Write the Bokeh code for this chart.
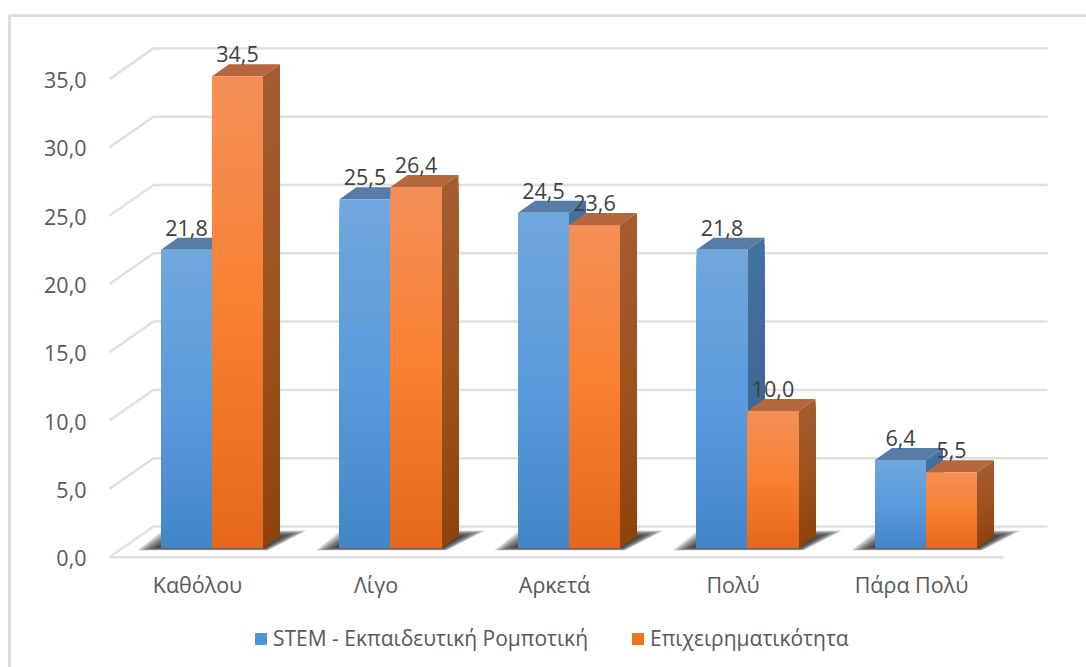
from bokeh.embed import file_html
from bokeh.resources import INLINE
from bokeh.plotting import figure
from bokeh.models import LinearAxis, FixedTicker, Legend, LegendItem, ColumnDataSource, Range1d
from bokeh.core.properties import value

categories = ["Καθόλου", "Λίγο", "Αρκετά", "Πολύ", "Πάρα Πολύ"]
stem_values = [21.8, 25.5, 24.5, 21.8, 6.4]
business_values = [34.5, 26.4, 23.6, 10.0, 5.5]
stem_name = "STEM - Εκπαιδευτική Ρομποτική"
business_name = "Επιχειρηματικότητα"
value_ticks = [0, 5, 10, 15, 20, 25, 30, 35]

WIDTH, HEIGHT = 1086, 667
PX_PER_CAT = 178.5
PX_PER_VAL = 13.66
CAT0_PX, ZERO_PX = 197.0, 556.7
FONT = "Open Sans"


def dx(px):
    return px / PX_PER_CAT


def dy(px):
    return px / PX_PER_VAL


def xd(px):
    return (px - CAT0_PX) / PX_PER_CAT


def yd(py):
    return (ZERO_PX - py) / PX_PER_VAL


p = figure(width=WIDTH, height=HEIGHT, output_backend="svg", toolbar_location=None,
           x_range=(xd(0), xd(WIDTH)), y_range=(yd(HEIGHT), yd(0)),
           x_axis_type=None, y_axis_type=None, min_border=0,
           background_fill_color="white", border_fill_color="white", outline_line_color=None)
p.grid.visible = False

GRID = "#e0e0e0"
WALL_DX, WALL_DY = dx(44), dy(30.7)
LEFT = xd(109)
RIGHT_FRONT = xd(1003)

# Outer chart border
p.multi_line([[xd(9), xd(9), xd(WIDTH)]], [[yd(HEIGHT), yd(15), yd(15)]], line_color="#dedede", line_width=3)

# Back wall, side wall and floor lines
xs, ys = [], []
for t in value_ticks:
    xs.append([LEFT, LEFT + WALL_DX, RIGHT_FRONT + WALL_DX])
    ys.append([t, t + WALL_DY, t + WALL_DY])
xs.append([LEFT, RIGHT_FRONT])
ys.append([0, 0])
p.multi_line(xs, ys, line_color=GRID, line_width=2.5)


def lerp(c1, c2, f):
    return "#%02x%02x%02x" % tuple(round(a + (b - a) * f) for a, b in zip(c1, c2))


def ramp(stops, f):
    n = len(stops) - 1
    k = min(int(f * n), n - 1)
    return lerp(stops[k], stops[k + 1], f * n - k)


BLUE_FRONT = [(0x70, 0xa7, 0xdd), (0x5a, 0x9b, 0xdc), (0x41, 0x85, 0xc8)]
BLUE_SIDE = [(0x44, 0x72, 0xa0), (0x3d, 0x69, 0x96), (0x2f, 0x5e, 0x8c)]
BLUE_TOP = "#567ca7"
ORANGE_FRONT = [(0xf5, 0x8f, 0x58), (0xf8, 0x80, 0x30), (0xe5, 0x68, 0x1a)]
ORANGE_SIDE = [(0xa3, 0x5c, 0x30), (0x9e, 0x52, 0x1e), (0x8e, 0x43, 0x0e)]
ORANGE_TOP = "#b5663c"

BAR_W = dx(51)
GROUP_SHIFT = dx(14.5)
DEPTH_X, DEPTH_Y = dx(17), dy(12)
BASE = dy(9.7)
STEPS = 48

# Soft floor shadow built from nested translucent shapes
SHADOW_LAYERS = 14
for i in range(len(categories)):
    left, right = i + GROUP_SHIFT - BAR_W, i + GROUP_SHIFT + BAR_W
    for k in range(SHADOW_LAYERS):
        inset = k * 1.5
        low, high = BASE - dy(3 - k * 0.2), BASE + dy(17 - k * 0.42)
        sx = [left - dx(24 - inset), left + dx(1 + inset), right + dx(44 - inset * 1.2), right + dx(5 - inset * 0.2)]
        sy = [low, high, high, low]
        p.patch(sx, sy, fill_color="#262626", fill_alpha=0.12, line_color=None)


def draw_bar(left, val, front, side, top):
    right = left + BAR_W
    h = BASE + val
    # lid of the box
    p.patch([left, left + DEPTH_X, right + DEPTH_X, right],
            [h, h + DEPTH_Y, h + DEPTH_Y, h], fill_color=top, line_color=None)
    # faces painted top-down as shrinking layers so no seams show between bands
    for s in range(STEPS):
        f = s / (STEPS - 1)
        y_top = BASE + val * (1 - f)
        p.patch([right, right + DEPTH_X, right + DEPTH_X, right],
                [BASE, BASE + DEPTH_Y, y_top + DEPTH_Y, y_top],
                fill_color=ramp(side, f), line_color=None)
    for s in range(STEPS):
        f = s / (STEPS - 1)
        y_top = BASE + val * (1 - f)
        p.quad(left=left, right=right, bottom=BASE, top=y_top, fill_color=ramp(front, f), line_color=None)


for i in range(len(categories)):
    draw_bar(i + GROUP_SHIFT - BAR_W, stem_values[i], BLUE_FRONT, BLUE_SIDE, BLUE_TOP)
    draw_bar(i + GROUP_SHIFT, business_values[i], ORANGE_FRONT, ORANGE_SIDE, ORANGE_TOP)

# Value labels
fmt = lambda v: f"{v:.1f}".replace(".", ",")
lx, ly, lt = [], [], []
for i in range(len(categories)):
    lx += [i + GROUP_SHIFT - BAR_W / 2, i + GROUP_SHIFT + BAR_W / 2]
    ly += [BASE + stem_values[i] + DEPTH_Y, BASE + business_values[i] + DEPTH_Y]
    lt += [fmt(stem_values[i]), fmt(business_values[i])]
src = ColumnDataSource(dict(x=lx, y=ly, t=lt))
p.text("x", "y", text="t", source=src, text_font=value(FONT), text_font_size="21.5px",
       text_color="#404040", text_align="center", text_baseline="alphabetic", y_offset=-10)

# Axes sit on the front edge of the floor and side wall; tick labels hang a touch below their lines
p.extra_y_ranges["labels"] = Range1d(yd(HEIGHT) + dy(1), yd(0) + dy(1))
y_axis = LinearAxis(fixed_location=LEFT, y_range_name="labels", ticker=FixedTicker(ticks=value_ticks),
                    major_label_overrides={t: fmt(t) for t in value_ticks},
                    axis_line_color=None, major_tick_line_color=None, minor_tick_line_color=None,
                    major_label_text_font=FONT, major_label_text_font_size="21.5px",
                    major_label_text_color="#595959", major_label_standoff=17)
p.add_layout(y_axis, "left")

x_axis = LinearAxis(fixed_location=0, ticker=FixedTicker(ticks=list(range(len(categories)))),
                    major_label_overrides={i: c for i, c in enumerate(categories)},
                    axis_line_color=None, major_tick_line_color=None, minor_tick_line_color=None,
                    major_label_text_font=FONT, major_label_text_font_size="21.5px",
                    major_label_text_color="#595959", major_label_standoff=7)
p.add_layout(x_axis, "below")

# Legend swatches come from zero-sized quads so only the key shows them
r_stem = p.quad(left=[0], right=[0], bottom=[0], top=[0], fill_color="#4f94d6", line_color=None)
r_bus = p.quad(left=[0], right=[0], bottom=[0], top=[0], fill_color="#ee7422", line_color=None)
legend = Legend(items=[LegendItem(label=stem_name, renderers=[r_stem]),
                       LegendItem(label=business_name, renderers=[r_bus])],
                orientation="horizontal", location=(253, 15), border_line_color=None,
                background_fill_alpha=0, padding=0, margin=0, spacing=42,
                glyph_width=15, glyph_height=15, label_standoff=5, label_height=15,
                label_text_font=FONT, label_text_font_size="21px", label_text_color="#595959")
p.add_layout(legend, "center")

open("out.html", "w").write(file_html(p, INLINE))
